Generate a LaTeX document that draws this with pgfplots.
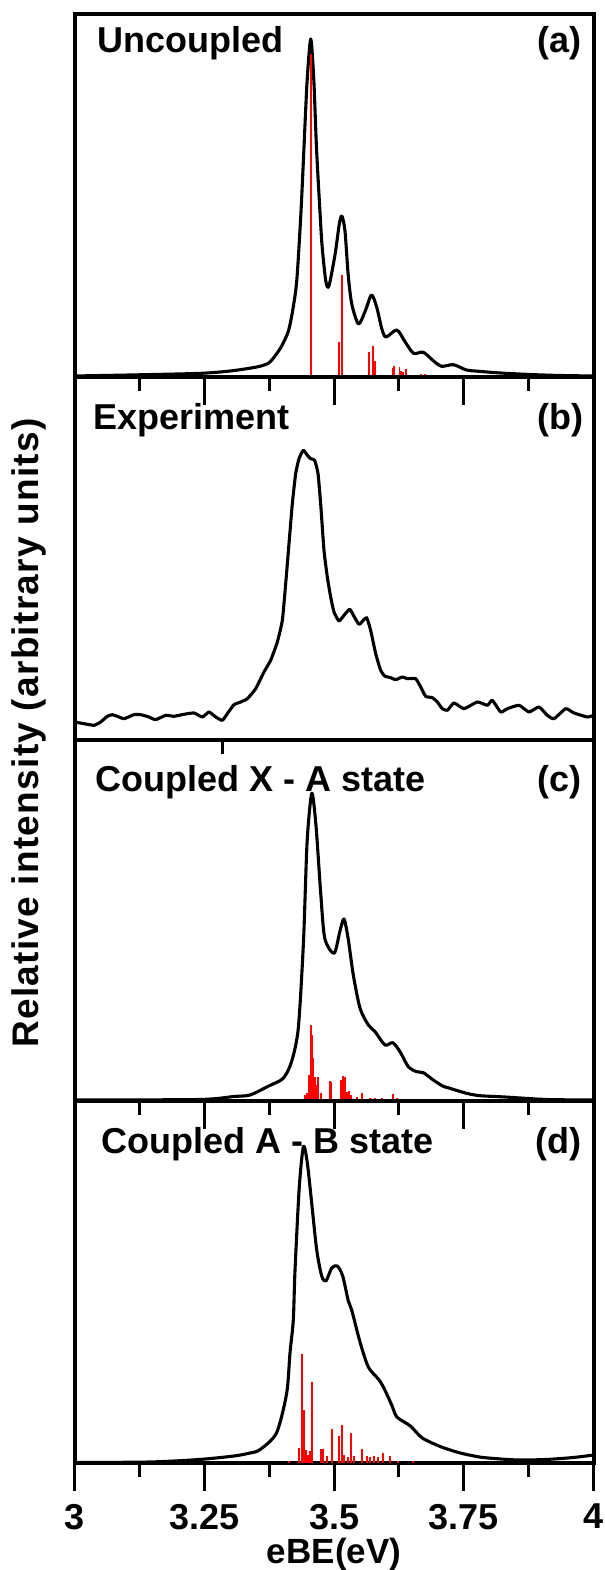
\documentclass[border=0pt]{standalone}
\usepackage{fontspec}
\setmainfont{Liberation Sans}
\usepackage{pgfplots}
\pgfplotsset{compat=1.18}
\newcommand{\bigf}{\fontsize{36bp}{40bp}\selectfont\bfseries}
\tikzset{lab/.style={font=\bigf, inner sep=0pt}}
\pgfplotsset{
  panel/.style={
    scale only axis, width=519bp, xmin=3, xmax=4, ymin=0,
    axis line style={line width=4bp, line cap=rect},
    ytick=\empty, tick align=outside, xtick pos=left,
    xtick={3,3.25,3.5,3.75,4}, minor xtick={3.125,3.375,3.625,3.875},
    xticklabels={},
    major tick length=28bp, minor tick length=14bp,
    every tick/.style={black, line width=3bp},
    clip mode=individual,
  },
  curve/.style={black, line width=3.1bp, smooth, tension=0.45, line join=round},
  sticks/.style={red, ycomb, line width=1.7bp},
}
\begin{document}
\begin{tikzpicture}
\useasboundingbox (-74.6bp,-107bp) rectangle (530.4bp,1463bp);
% ---------------- (a) Uncoupled
\begin{axis}[panel, at={(0bp,1086bp)}, anchor=south west, height=363bp, ymax=363]
\addplot[curve] coordinates {
(3.000,1) (3.106,2) (3.240,3.6) (3.300,6) (3.351,10) (3.374,14) (3.389,23)
(3.400,32) (3.412,46) (3.420,66) (3.428,96) (3.436,163) (3.442,230) (3.448,296)
(3.455,338) (3.461,296) (3.466,230) (3.473,163) (3.477,130) (3.484,96)
(3.490,91) (3.502,123) (3.510,153) (3.515,161) (3.521,146) (3.527,103)
(3.534,73) (3.547,53) (3.560,66) (3.572,82) (3.582,70) (3.592,48) (3.600,40)
(3.621,47) (3.637,35) (3.653,23.7) (3.672,24.7) (3.691,16.3) (3.707,10.7)
(3.730,12.3) (3.755,7) (3.781,5.6) (3.820,4) (3.877,2.5) (3.935,1.5) (4.000,1)
};
\addplot[sticks] coordinates {
(3.455,323) (3.510,35) (3.515,102) (3.567,25) (3.575,31.3) (3.579,16)
(3.613,8.7) (3.615,10.7) (3.626,10.3) (3.629,6) (3.633,4.7) (3.639,8)
(3.667,3.3) (3.675,3.3)
};
\node[lab, anchor=base west] at (rel axis cs:0.044,0.895) {Uncoupled};
\node[lab, anchor=base east] at (rel axis cs:0.977,0.895) {(a)};
\end{axis}
% ---------------- (b) Experiment
\begin{axis}[panel, at={(0bp,723bp)}, anchor=south west, height=363bp, ymax=363,
  xtick=\empty, minor xtick={}, extra x ticks={3.285}, extra x tick labels={},
  extra x tick style={major tick length=14bp}]
\addplot[black, line width=3.1bp, smooth, tension=0.3, line join=round] coordinates {
(3.000,18) (3.0181,16.3) (3.0374,14.7) (3.0502,18) (3.0631,23.7) (3.0727,25.3)
(3.0823,23.7) (3.0952,21.3) (3.1144,25.3) (3.1273,25.3) (3.1433,23) (3.1562,20.3)
(3.1755,24.7) (3.1915,23.7) (3.2108,25.7) (3.2301,27) (3.2461,23) (3.2590,28)
(3.2718,23) (3.2847,19.7) (3.2943,26.3) (3.3071,35.3) (3.3200,38) (3.3328,41.3)
(3.3489,51.3) (3.3649,68) (3.3778,79.7) (3.3906,98) (3.4003,119.7) (3.4067,156.3)
(3.4131,196.3) (3.4195,236.3) (3.4259,266.3) (3.4324,281.3) (3.4407,289.7)
(3.4484,284.7) (3.4548,281.3) (3.4626,279.7) (3.4690,266.3) (3.4741,236.3)
(3.4805,189.7) (3.4869,163) (3.4934,143) (3.4998,128) (3.5094,119) (3.5191,124.7)
(3.5300,130.7) (3.5383,123.7) (3.5480,115.7) (3.5563,119.7) (3.5628,122.3)
(3.5704,109.7) (3.5801,86.3) (3.5897,69.7) (3.5974,64) (3.6090,62.3) (3.6186,60.3)
(3.6315,63) (3.6411,61.3) (3.6572,61.3) (3.6668,53) (3.6764,43.7) (3.6893,42.3)
(3.6989,38) (3.7085,31.3) (3.7182,29.7) (3.7310,37) (3.7503,31.3) (3.7760,38)
(3.7952,34.7) (3.8049,39.7) (3.8209,28) (3.8338,31.3) (3.8563,34.7) (3.8755,28)
(3.8948,33) (3.9108,24.7) (3.9237,21.3) (3.9462,31.3) (3.9622,27) (3.9879,23)
(4.000,24.7)
};
\node[lab, anchor=base west] at (rel axis cs:0.036,0.854) {Experiment};
\node[lab, anchor=base east] at (rel axis cs:0.981,0.854) {(b)};
\end{axis}
% ---------------- (c) Coupled X - A
\begin{axis}[panel, at={(0bp,362bp)}, anchor=south west, height=361bp, ymax=361]
\addplot[curve] coordinates {
(3.000,1) (3.240,1.5) (3.307,4.5) (3.338,6) (3.374,15) (3.402,22.7) (3.418,39.3)
(3.431,72.7) (3.441,159.3) (3.448,259.3) (3.457,307.7) (3.465,276) (3.474,209.3)
(3.482,162.7) (3.500,147.7) (3.511,169.3) (3.519,182) (3.527,162.7) (3.537,126)
(3.550,92.7) (3.566,76) (3.579,69.3) (3.598,56) (3.613,58.3) (3.627,49.3)
(3.643,34.3) (3.659,29.3) (3.672,28.3) (3.691,21) (3.709,15) (3.723,12.7)
(3.755,7.7) (3.781,5.3) (3.829,4) (3.909,1.5) (4.000,1)
};
\addplot[sticks] coordinates {
(3.4445,6) (3.4484,7.7) (3.4522,26) (3.4549,76) (3.4574,66) (3.4599,42.7)
(3.4632,24.3) (3.4665,16) (3.4696,24.3) (3.4742,7.7) (3.4921,20) (3.4946,19.3)
(3.5127,21) (3.5166,25.3) (3.5204,24.3) (3.5243,9.3) (3.5281,10) (3.5320,6)
(3.5435,4.3) (3.5532,8.3) (3.5692,3.3) (3.5788,3.3) (3.5917,2.7) (3.6141,7)
(3.6206,2.7) (3.6399,2) (3.6719,1.3)
};
\node[lab, anchor=base west] at (rel axis cs:0.039,0.856) {Coupled X - A state};
\node[lab, anchor=base east] at (rel axis cs:0.977,0.856) {(c)};
\end{axis}
% ---------------- (d) Coupled A - B
\begin{axis}[panel, at={(0bp,0bp)}, anchor=south west, height=362bp, ymax=362,
  xticklabels={3,3.25,3.5,3.75,4},
  xticklabel style={font=\bigf, inner sep=0pt, anchor=north, yshift=-13bp},
  xlabel={eBE(eV)},
  xlabel style={font=\fontsize{35bp}{38bp}\selectfont\bfseries, inner sep=0pt, at={(rel axis cs:0.5,0)}, anchor=base, yshift=-100bp}]
\addplot[curve] coordinates {
(3.000,0.5) (3.145,1) (3.240,3.5) (3.307,7) (3.338,10) (3.357,13.3) (3.389,30)
(3.4087,70) (3.415,110) (3.4214,143) (3.4247,193) (3.433,276.7) (3.441,316.7)
(3.4484,300) (3.4568,260) (3.4665,213) (3.4761,187) (3.4844,182) (3.4954,195)
(3.5062,197) (3.5166,187) (3.5274,162) (3.5339,153) (3.5499,121) (3.5659,96)
(3.5852,84) (3.595,76) (3.611,58) (3.621,46) (3.647,37) (3.670,25) (3.707,16)
(3.743,10) (3.780,6) (3.809,4.5) (3.855,3) (3.908,3.5) (3.961,5.5) (4.000,8)
};
\addplot[sticks, line width=2.1bp] coordinates {
(3.4137,1.7) (3.4318,15) (3.4376,109.3) (3.4420,53.3) (3.4459,13.3) (3.4503,8.3)
(3.4536,11.7) (3.4574,80.7) (3.4742,14) (3.4780,14) (3.4869,6.7) (3.4954,34)
(3.5100,26.7) (3.5152,38.3) (3.5197,8.3) (3.5262,6) (3.5320,30) (3.5383,7.3)
(3.5532,14) (3.5628,7.3) (3.5692,6) (3.5769,7.3) (3.5852,6) (3.5936,10)
(3.6077,7.3) (3.6237,1.7) (3.6526,2.3)
};
\node[lab, anchor=base west] at (rel axis cs:0.052,0.856) {Coupled A - B state};
\node[lab, anchor=base east] at (rel axis cs:0.977,0.856) {(d)};
\end{axis}
\node[font={\fontsize{37bp}{40bp}\selectfont\bfseries\addfontfeature{LetterSpace=3.5}}, rotate=90, inner sep=0pt] at (-45.6bp,730bp) {Relative intensity (arbitrary units)};
\end{tikzpicture}
\end{document}
